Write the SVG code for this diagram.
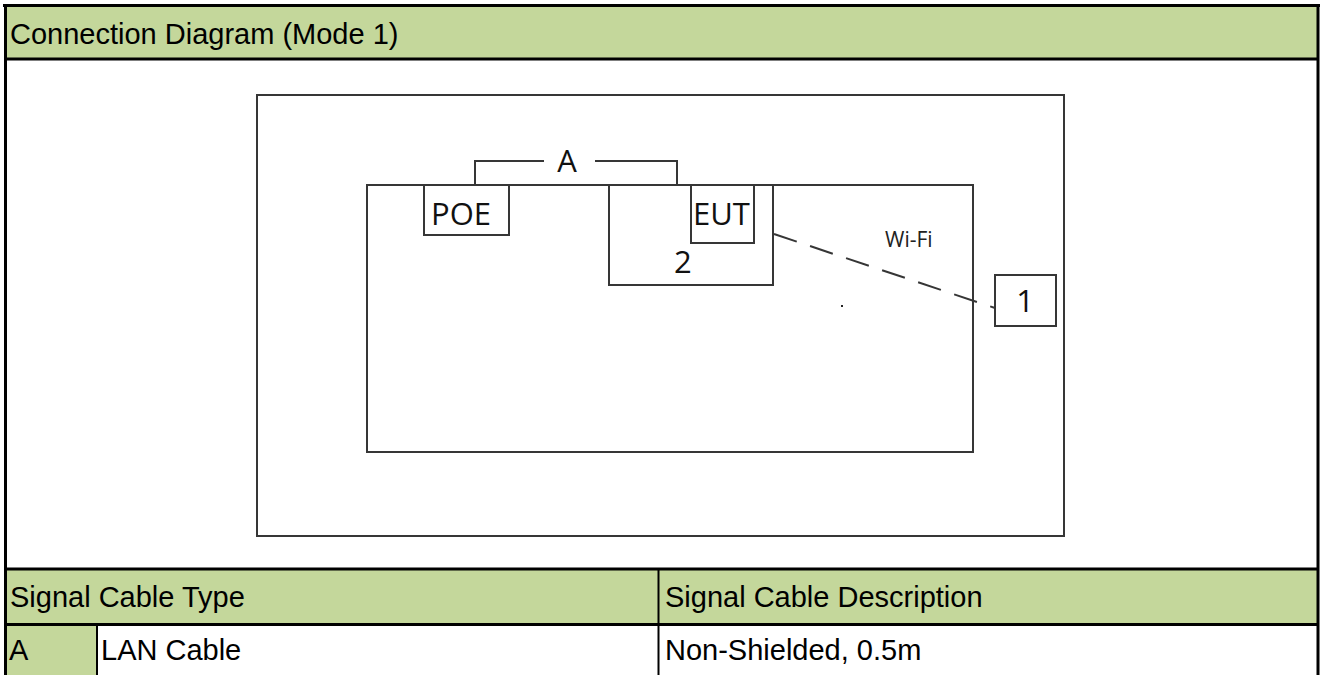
<svg xmlns="http://www.w3.org/2000/svg" width="1322" height="675" viewBox="0 0 1322 675">
<style>
.cell{fill:#C4D79B}
.bd{stroke:#000;fill:none}
.ln{stroke:#363636;stroke-width:2;fill:none}
.tt{font-family:"Liberation Sans",Arial,sans-serif;font-size:29px;fill:#000}
.dt{font-family:"Open Sans","Noto Sans",sans-serif;font-size:31px;fill:#111}
</style>
<rect width="1322" height="675" fill="#fff"/>
<g id="table">
<rect class="cell" x="5" y="5" width="1313" height="54"/>
<rect class="cell" x="5" y="569" width="1313" height="56"/>
<rect class="cell" x="5" y="625" width="92" height="50"/>
<line class="bd" x1="3" y1="5.5" x2="1320" y2="5.5" stroke-width="3"/>
<line class="bd" x1="5.5" y1="4" x2="5.5" y2="675" stroke-width="3"/>
<line class="bd" x1="1318" y1="4" x2="1318" y2="675" stroke-width="3"/>
<line class="bd" x1="4" y1="59" x2="1319" y2="59" stroke-width="3"/>
<line class="bd" x1="4" y1="569" x2="1319" y2="569" stroke-width="3"/>
<line class="bd" x1="4" y1="624.5" x2="1319" y2="624.5" stroke-width="3"/>
<line class="bd" x1="658.5" y1="569" x2="658.5" y2="675" stroke-width="2"/>
<line class="bd" x1="97" y1="625" x2="97" y2="675" stroke-width="2"/>
<text class="tt" x="10" y="44">Connection Diagram (Mode 1)</text>
<text class="tt" x="10" y="607">Signal Cable Type</text>
<text class="tt" x="665" y="607">Signal Cable Description</text>
<text class="tt" x="9" y="660">A</text>
<text class="tt" x="101" y="660">LAN Cable</text>
<text class="tt" x="665" y="660">Non-Shielded, 0.5m</text>
</g>
<g id="room">
<rect class="ln" x="257" y="95" width="807" height="441"/>
</g>
<g id="table-area">
<rect class="ln" x="367" y="185" width="606" height="267"/>
</g>
<g id="poe">
<rect class="ln" x="424" y="185" width="85" height="50"/>
<text class="dt" x="431" y="225" font-size="32">POE</text>
</g>
<g id="support2">
<rect class="ln" x="609" y="185" width="164" height="100"/>
<text class="dt" x="674" y="273">2</text>
</g>
<g id="eut">
<rect class="ln" x="691" y="185" width="63" height="58"/>
<text class="dt" x="693" y="225">EUT</text>
</g>
<g id="device1">
<rect class="ln" x="995" y="275" width="61" height="51"/>
<text class="dt" x="1025" y="312" text-anchor="middle">1</text>
</g>
<g id="connectors">
<polyline class="ln" points="475,185 475,161 544,161"/>
<polyline class="ln" points="595,161 677,161 677,185"/>
<text class="dt" x="567" y="172" text-anchor="middle" font-size="28">A</text>
<line class="ln" x1="774" y1="234" x2="995" y2="308" stroke-dasharray="24 14"/>
<text x="885" y="247" font-family="Open Sans, Noto Sans, sans-serif" font-size="21" fill="#222">Wi-Fi</text>
<rect x="841" y="305" width="2" height="2" fill="#222"/>
</g>
</svg>
